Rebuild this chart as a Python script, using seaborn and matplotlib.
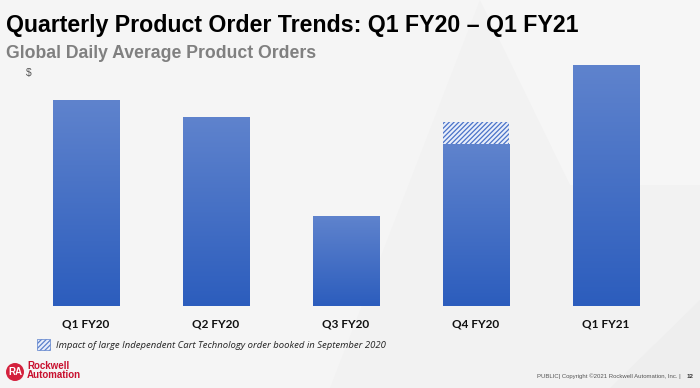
import numpy as np
import pandas as pd
import matplotlib
matplotlib.use("Agg")
import matplotlib.pyplot as plt
import seaborn as sns
from matplotlib.colors import LinearSegmentedColormap
from matplotlib.patches import Rectangle, Polygon, Ellipse

# ---- data (relative heights, y-axis unlabeled "$") ----
quarters = ["Q1 FY20", "Q2 FY20", "Q3 FY20", "Q4 FY20", "Q1 FY21"]
orders = [206, 189, 90, 162, 241]
cart_impact = [0, 0, 0, 22, 0]

title = "Quarterly Product Order Trends: Q1 FY20 \u2013 Q1 FY21"
subtitle = "Global Daily Average Product Orders"
legend_text = "Impact of large Independent Cart Technology order booked in September 2020"
footer = "PUBLIC| Copyright \u00a92021 Rockwell Automation, Inc. |"

sns.set_theme(style="white")
plt.rcParams["font.family"] = ["Liberation Sans", "DejaVu Sans"]
plt.rcParams["hatch.linewidth"] = 0.9

W, H = 700, 388
fig = plt.figure(figsize=(W / 100, H / 100), dpi=100, facecolor="#f2f2f2")

# subtle background shapes
def fpoly(pts, color):
    p = Polygon([(x / W, 1 - y / H) for x, y in pts], closed=True,
                transform=fig.transFigure, facecolor=color, edgecolor="none",
                zorder=-5)
    fig.patches.append(p)

fpoly([(0, 0), (480, 0), (330, 388), (0, 388)], "#f5f5f5")
fpoly([(480, 0), (700, 0), (700, 185), (570, 185)], "#f6f6f6")
fpoly([(610, 388), (700, 300), (700, 388)], "#eeeeee")

ax = fig.add_axes([21 / W, 82 / H, 650 / W, 246 / H])
ax.set_facecolor("none")
ax.set_zorder(2)

df = pd.DataFrame({"quarter": quarters, "orders": orders})
sns.barplot(data=df, x="quarter", y="orders", ax=ax, width=0.51,
            color="#4a72c8", saturation=1, linewidth=0)

cmap = LinearSegmentedColormap.from_list("g", ["#2c5dbd", "#5f83cd"])
grad = np.linspace(0, 1, 256).reshape(-1, 1)
for p in list(ax.patches):
    x, y = p.get_x(), p.get_y()
    w, h = p.get_width(), p.get_height()
    im = ax.imshow(grad, extent=[x, x + w, y, y + h], origin="lower",
                   aspect="auto", cmap=cmap, zorder=p.get_zorder() + 0.1)
    im.set_clip_path(p)

ax.bar(range(len(quarters)), cart_impact, bottom=orders, width=0.51,
       color="#e8eefa", edgecolor="#4a72c8", hatch="///////", linewidth=0, zorder=3)

ax.set_xlim(-0.5, len(quarters) - 0.5)
ax.set_ylim(0, 246)
ax.set_yticks([])
ax.set_xlabel("")
ax.set_ylabel("")
for s in ax.spines.values():
    s.set_visible(False)
ax.tick_params(axis="x", length=0, pad=9)
for lab in ax.get_xticklabels():
    lab.set_fontfamily(["Lato", "DejaVu Sans"])
    lab.set_fontweight("bold")
    lab.set_fontsize(8.5)
    lab.set_color("#111111")

def ft(x, y, s, **kw):
    fig.text(x / W, 1 - y / H, s, **kw)

ft(6, 32, title, fontsize=16.7, fontweight="bold", color="#000000", va="baseline")
ft(6, 58, subtitle, fontsize=12.7, fontweight="bold", color="#808080", va="baseline")
ft(26, 76, "$", fontsize=7.5, color="#555555", va="baseline")

# legend
leg = Rectangle((37 / W, 1 - 350 / H), 13 / W, 11 / H, transform=fig.transFigure,
                facecolor="#e8eefa", edgecolor="#5b80cc", hatch="///////", linewidth=0.5)
fig.patches.append(leg)
ft(56, 347.5, legend_text, fontsize=6.8, style="italic", color="#222222",
   va="baseline", fontfamily=["Open Sans", "DejaVu Sans"])

# footer
ft(681, 378, footer, fontsize=4.3, color="#555555", va="baseline", ha="right")
ft(687, 378, "12", fontsize=4.5, color="#333333", va="baseline", fontweight="bold")

# logo
logo = Ellipse((15 / W, 1 - 372 / H), 18 / W, 18 / H, transform=fig.transFigure,
               facecolor="#d4213d", edgecolor="none")
fig.patches.append(logo)
ft(15, 375, "RA", fontsize=7, fontweight="bold", color="white", ha="center",
   va="baseline")
ft(27, 369, "Rockwell", fontsize=7, fontweight="bold", color="#c8102e", va="baseline")
ft(27, 378, "Automation", fontsize=7, fontweight="bold", color="#c8102e", va="baseline")

fig.savefig("out.png", dpi=100, facecolor=fig.get_facecolor())
